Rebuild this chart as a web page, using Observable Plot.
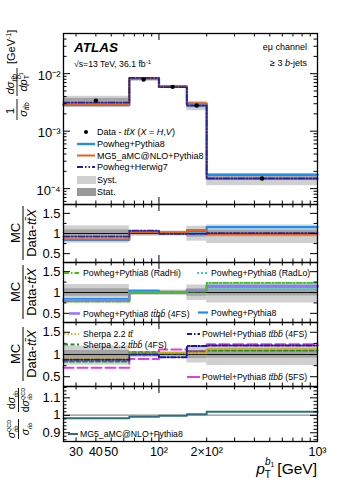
<!DOCTYPE html>
<html><head><meta charset="utf-8">
<script src="https://cdn.jsdelivr.net/npm/d3@7"></script>
<script src="https://cdn.jsdelivr.net/npm/@observablehq/plot@0.6"></script>
<style>
body{margin:0;background:#fff;}
#wrap{position:relative;width:349px;height:483px;overflow:hidden;font-family:"Liberation Sans",Arial,Helvetica,sans-serif;}
#wrap > svg{display:block;}
#ov{position:absolute;left:0;top:0;pointer-events:none;}
</style></head><body><div id="wrap"></div>
<script>
// ---------------- data ----------------
const binEdges = [25, 65, 100, 150, 200, 1000];
const binCenters = [40, 80, 122, 173, 447];
const dataXsec = [3.4e-3, 7.9e-3, 5.9e-3, 2.8e-3, 1.5e-4];
const systUp = [0.19, 0.07, 0.06, 0.18, 0.21];
const systDn = [0.24, 0.07, 0.06, 0.19, 0.25];
const statUnc = [0.09, 0.04, 0.035, 0.09, 0.08];
// MC / (Data - ttX) ratios
const powhegPy8 = [0.84, 1.04, 1.00, 1.05, 1.16];
const mg5Py8 = [0.86, 1.03, 1.03, 1.09, 0.98];
const powhegH7 = [0.92, 1.07, 0.99, 0.99, 1.01];
const radHi = [0.78, 0.99, 1.00, 1.02, 1.23];
const radLo = [0.80, 1.00, 0.99, 1.04, 1.08];
const powhegTtbb4FS = [0.81, 1.00, 0.99, 1.05, 1.14];
const sherpaTt = [0.92, 1.02, 1.04, 1.03, 1.13];
const sherpaTtbb = [0.84, 1.05, 1.02, 1.07, 1.09];
const powhelTtbb4FS = [0.88, 1.00, 0.94, 1.19, 1.20];
const powhelTtbb5FS = [0.70, 0.90, 1.11, 1.08, 1.23];
// sigma^QCD/sigma * dsigma/dsigma^QCD
const qcdRatioMG5 = [0.983, 0.992, 0.998, 1.006, 1.020];
const qcdBand = 0.004;
// ticks
const xTickValues = [30, 40, 50, 100, 200, 1000];
const xTickLabels = ["30", "40", "50", "10²", "2×10²", "10³"];
const xMajor = [100, 1000];
const xMinor = [30, 40, 50, 60, 70, 80, 90, 200, 300, 400, 500, 600, 700, 800, 900];
const yTopTickValues = [1e-2, 1e-3, 1e-4];
const yTopTickLabels = ["10⁻²", "10⁻³", "10⁻⁴"];
const yTopMinor = [6e-5, 7e-5, 8e-5, 9e-5, 2e-4, 3e-4, 4e-4, 5e-4, 6e-4, 7e-4, 8e-4, 9e-4,
                   2e-3, 3e-3, 4e-3, 5e-3, 6e-3, 7e-3, 8e-3, 9e-3, 2e-2, 3e-2, 4e-2];
const yRatioTicks = [0.5, 1, 1.5];
const yRatioTickLabels = ["0.5", "1", "1.5"];
const yRatioMinor = [0.75, 1.25];
const yQcdTicks = [0.9, 1, 1.1];
const yQcdTickLabels = ["0.9", "1", "1.1"];
const yQcdMinor = [0.86, 0.88, 0.92, 0.94, 0.96, 0.98, 1.02, 1.04, 1.06, 1.08, 1.12, 1.14, 1.16];

// ---------------- style ----------------
const FONT = '"Liberation Sans", Arial, Helvetica, sans-serif';
const W = 349, ML = 63, MR = 32, FW = W - ML - MR;
const C = {
  blue: "#1f8ef1", orange: "#e8601c", h7: "#22229a", radHi: "#44bb22", radLo: "#33cccc",
  purple: "#9b77ff", sherpaTt: "#d4aa20", sherpaTtbb: "#2a8a2a", powhel4: "#1a1aa8",
  powhel5: "#e040e0", teal: "#2f6f82", light: "#d0d0d0", dark: "#a3a3a3"
};
const DASH = { h7: "6,2,1.5,2,1.5,2", radHi: "5,2,1.5,2", radLo: "2,2", sherpaTt: "1.5,2",
  sherpaTtbb: "4,2.5", powhel4: "5,2,1.5,2", powhel5: "10,4" };

const bins = binEdges.slice(0, -1).map((lo, i) => ({lo, hi: binEdges[i + 1], i}));
function stepPts(vals) {
  const pts = [];
  vals.forEach((v, i) => { pts.push({x: binEdges[i], y: v}); pts.push({x: binEdges[i + 1], y: v}); });
  return pts;
}
const times = (r) => r.map((v, i) => v * dataXsec[i]);
function histLine(vals, stroke, width, dash) {
  return Plot.line(stepPts(vals), {x: "x", y: "y", stroke, strokeWidth: width, strokeDasharray: dash, curve: "linear"});
}
function ratioBands() {
  return [
    Plot.rect(bins, {x1: "lo", x2: "hi", y1: b => 1 - systDn[b.i], y2: b => 1 + systUp[b.i], fill: C.light}),
    Plot.rect(bins, {x1: "lo", x2: "hi", y1: b => 1 - statUnc[b.i], y2: b => 1 + statUnc[b.i], fill: C.dark}),
    Plot.ruleY([1], {stroke: "#111", strokeWidth: 1.2})
  ];
}

function panel({height, mt = 0, mb = 0, yType = "linear", yDomain, yMajor, yMinor, yTickValues, yTickLabels, bottomAxis = false, marks, yDy = 0}) {
  const fh = height - mt - mb;
  return Plot.plot({
    width: W, height, marginLeft: ML, marginRight: MR, marginTop: mt, marginBottom: mb,
    style: {fontFamily: FONT, fontSize: "13px", background: "white", overflow: "visible", color: "#000"},
    x: {type: "log", domain: [25, 1000], axis: null},
    y: {type: yType, domain: yDomain},
    marks: [
      ...marks,
      Plot.tickX(xMajor, {x: d => d, insetTop: fh - 7, stroke: "#000"}),
      Plot.tickX(xMajor, {x: d => d, insetBottom: fh - 7, stroke: "#000"}),
      Plot.tickX(xMinor, {x: d => d, insetTop: fh - 3.5, stroke: "#000"}),
      Plot.tickX(xMinor, {x: d => d, insetBottom: fh - 3.5, stroke: "#000"}),
      Plot.tickY(yMajor, {y: d => d, insetRight: FW - 7, stroke: "#000"}),
      Plot.tickY(yMajor, {y: d => d, insetLeft: FW - 7, stroke: "#000"}),
      Plot.tickY(yMinor, {y: d => d, insetRight: FW - 3.5, stroke: "#000"}),
      Plot.tickY(yMinor, {y: d => d, insetLeft: FW - 3.5, stroke: "#000"}),
      Plot.frame({stroke: "#000", strokeWidth: 1.3}),
      Plot.axisY(yTickValues, {tickSize: 0, tickPadding: 3, dy: yDy, label: null, fontSize: 13,
        tickFormat: d => yTickLabels[yTickValues.indexOf(d)]}),
      ...(bottomAxis ? [Plot.text(xTickValues, {x: d => d, frameAnchor: "bottom", lineAnchor: "top", dy: 6,
        fontSize: 12.5, textAnchor: "middle", fill: "#000", text: d => xTickLabels[xTickValues.indexOf(d)]})] : [])
    ]
  });
}

const wrap = document.getElementById("wrap");

// Panel 1: normalised cross-section
wrap.appendChild(panel({
  height: 204, mt: 33, yType: "log", yDomain: [5.3e-5, 0.05], yMajor: yTopTickValues, yMinor: yTopMinor,
  yTickValues: yTopTickValues, yTickLabels: yTopTickLabels, yDy: 2,
  marks: [
    Plot.rect(bins, {x1: "lo", x2: "hi", y1: b => dataXsec[b.i] * (1 - systDn[b.i]), y2: b => dataXsec[b.i] * (1 + systUp[b.i]), fill: C.light}),
    Plot.rect(bins, {x1: "lo", x2: "hi", y1: b => dataXsec[b.i] * (1 - statUnc[b.i]), y2: b => dataXsec[b.i] * (1 + statUnc[b.i]), fill: C.dark}),
    histLine(times(powhegPy8), C.blue, 2.4),
    histLine(times(mg5Py8), C.orange, 2),
    histLine(times(powhegH7), C.h7, 1.8, DASH.h7),
    Plot.dot(binCenters.map((x, i) => ({x, y: dataXsec[i]})), {x: "x", y: "y", r: 2.2, fill: "#000"})
  ]
}));

// Panel 2
wrap.appendChild(panel({
  height: 58, yDomain: [0.28, 1.72], yMajor: yRatioTicks, yMinor: yRatioMinor,
  yTickValues: yRatioTicks, yTickLabels: yRatioTickLabels,
  marks: [
    ...ratioBands(),
    histLine(powhegPy8, C.blue, 2.2),
    histLine(mg5Py8, C.orange, 2),
    histLine(powhegH7, C.h7, 1.8, DASH.h7)
  ]
}));

// Panel 3
wrap.appendChild(panel({
  height: 60, yDomain: [0.28, 1.72], yMajor: yRatioTicks, yMinor: yRatioMinor,
  yTickValues: yRatioTicks, yTickLabels: yRatioTickLabels,
  marks: [
    ...ratioBands(),
    histLine(radLo, C.radLo, 1.8, DASH.radLo),
    histLine(powhegPy8, C.blue, 2.2),
    histLine(powhegTtbb4FS, C.purple, 2.6),
    histLine(radHi, C.radHi, 1.8, DASH.radHi)
  ]
}));

// Panel 4
wrap.appendChild(panel({
  height: 64, yDomain: [0.28, 1.72], yMajor: yRatioTicks, yMinor: yRatioMinor,
  yTickValues: yRatioTicks, yTickLabels: yRatioTickLabels,
  marks: [
    ...ratioBands(),
    histLine(powhelTtbb5FS, C.powhel5, 2, DASH.powhel5),
    histLine(sherpaTtbb, C.sherpaTtbb, 2, DASH.sherpaTtbb),
    histLine(sherpaTt, C.sherpaTt, 2, DASH.sherpaTt),
    histLine(powhelTtbb4FS, C.powhel4, 2, DASH.powhel4)
  ]
}));

// Panel 5
wrap.appendChild(panel({
  height: 97, mb: 42, yDomain: [0.85, 1.165], yMajor: yQcdTicks, yMinor: yQcdMinor,
  yTickValues: yQcdTicks, yTickLabels: yQcdTickLabels, bottomAxis: true,
  marks: [
    Plot.rect([0], {x1: () => binEdges[0], x2: () => binEdges[binEdges.length - 1], y1: () => 1 - qcdBand, y2: () => 1 + qcdBand, fill: "#cfcfcf"}),
    Plot.ruleY([1], {stroke: "#9a9a9a", strokeWidth: 1}),
    histLine(qcdRatioMG5, C.teal, 2)
  ]
}));

// ---------------- overlay: texts, legends, axis titles ----------------
const tt = '<tspan font-style="italic">t</tspan><tspan font-style="italic">t&#772;</tspan>';
const bb = '<tspan font-style="italic">b</tspan><tspan font-style="italic">b&#772;</tspan>';
function sw(x1, x2, y, color, width, dash) {
  return `<line x1="${x1}" x2="${x2}" y1="${y}" y2="${y}" stroke="${color}" stroke-width="${width}" ${dash ? `stroke-dasharray="${dash}"` : ""}/>`;
}
function lt(x, y, html, size = 8.7, anchor = "start") {
  return `<text x="${x}" y="${y}" font-size="${size}" text-anchor="${anchor}">${html}</text>`;
}

let ov = "";
// ATLAS labels
ov += `<text x="74" y="52" font-size="13.5" font-weight="bold" font-style="italic">ATLAS</text>`;
ov += lt(74, 67, `√s=13 TeV, 36.1 fb<tspan font-size="6" dy="-3.5">-1</tspan>`, 8.7);
ov += lt(307, 50, `eμ channel`, 9, "end");
ov += lt(307, 66, `≥ 3 <tspan font-style="italic">b</tspan>-jets`, 9, "end");
// top legend
ov += `<circle cx="86" cy="132" r="2" fill="#000"/>`;
ov += lt(97, 135, `Data - ${tt}<tspan font-style="italic">X</tspan> (<tspan font-style="italic">X</tspan> = <tspan font-style="italic">H</tspan>,<tspan font-style="italic">V</tspan>)`, 9);
ov += sw(77, 95, 144, C.blue, 2.4) + lt(97, 147, "Powheg+Pythia8", 9);
ov += sw(77, 95, 155.5, C.orange, 2) + lt(97, 158.5, "MG5_aMC@NLO+Pythia8", 9);
ov += sw(77, 95, 167, C.h7, 1.8, DASH.h7) + lt(97, 170, "Powheg+Herwig7", 9);
ov += `<rect x="77" y="176" width="19" height="8" fill="${C.light}"/>` + lt(97, 183, "Syst.", 9);
ov += `<rect x="77" y="188" width="19" height="8" fill="#999"/>` + lt(97, 195, "Stat.", 9);
// panel 3 legend
ov += sw(64, 79, 273, C.radHi, 1.8, DASH.radHi) + lt(83, 276, "Powheg+Pythia8 (RadHi)");
ov += sw(197, 209, 273, C.radLo, 1.8, DASH.radLo) + lt(211, 276, "Powheg+Pythia8 (RadLo)");
ov += sw(69, 80, 313.5, C.purple, 2.6) + lt(83, 316.5, `Powheg+Pythia8 ${tt}${bb} (4FS)`);
ov += sw(198, 208, 312.5, C.blue, 2.2) + lt(211, 315.5, "Powheg+Pythia8");
// panel 4 legend
ov += sw(64, 79, 334, C.sherpaTt, 2, DASH.sherpaTt) + lt(83, 337, `Sherpa 2.2 ${tt}`);
ov += sw(64, 79, 344.5, C.sherpaTtbb, 2, DASH.sherpaTtbb) + lt(83, 347.5, `Sherpa 2.2 ${tt}${bb} (4FS)`);
ov += sw(187, 200, 334, C.powhel4, 2, DASH.powhel4) + lt(202, 337, `PowHel+Pythia8 ${tt}${bb} (4FS)`);
ov += sw(187, 200, 377, C.powhel5, 2) + lt(202, 380, `PowHel+Pythia8 ${tt}${bb} (5FS)`);
// panel 5 legend
ov += sw(68, 78, 434, C.teal, 2) + lt(80, 437, "MG5_aMC@NLO+Pythia8");

// y title, top panel
const sig = (s) => `<tspan font-style="italic">σ</tspan><tspan font-size="7" dy="2.8">${s}</tspan><tspan dy="-2.8"></tspan>`;
const ttbSub = `<tspan font-style="italic">tt&#772;b</tspan>`;
ov += `<g transform="translate(17,121) rotate(-90)" font-size="11">
  <text x="10" y="-3" text-anchor="middle">1</text>
  <line x1="1" x2="22" y1="0" y2="0" stroke="#000" stroke-width="0.9"/>
  <text x="11.5" y="9.5" text-anchor="middle">${sig(ttbSub)}</text>
  <text x="37" y="-3" text-anchor="middle"><tspan font-style="italic">d</tspan>${sig(ttbSub)}</text>
  <line x1="25" x2="53" y1="0" y2="0" stroke="#000" stroke-width="0.9"/>
  <text x="39" y="9.5" text-anchor="middle"><tspan font-style="italic">dp</tspan><tspan font-size="7" dy="2.8">T</tspan><tspan font-size="7" dy="-8" dx="-4" font-style="italic">b</tspan><tspan font-size="5" dy="1.5">1</tspan></text>
  <text x="57" y="-2">[GeV<tspan font-size="7" dy="-4">-1</tspan><tspan dy="4">]</tspan></text>
</g>`;
// ratio y titles
[233, 292, 354].forEach(cy => {
  ov += `<g transform="translate(23,${cy}) rotate(-90)" font-size="13">
    <text x="0" y="-3" text-anchor="middle">MC</text>
    <line x1="-27" x2="27" y1="0" y2="0" stroke="#000" stroke-width="1"/>
    <text x="0" y="13" text-anchor="middle">Data-${tt}<tspan font-style="italic">X</tspan></text>
  </g>`;
});
// panel 5 y title
const sigQ = `<tspan font-style="italic">σ</tspan><tspan font-size="5.5" dy="-4">QCD</tspan><tspan font-size="5.5" dx="-12" dy="7" font-style="italic">tt&#772;b</tspan>`;
const sigS = `<tspan font-style="italic">σ</tspan><tspan font-size="5.5" dy="3" font-style="italic">tt&#772;b</tspan>`;
ov += `<g transform="translate(18.5,414) rotate(-90)" font-size="10.5">
  <text x="-15" y="-3.5" text-anchor="middle">${sigQ}</text>
  <line x1="-25" x2="-5" y1="0" y2="0" stroke="#000" stroke-width="0.9"/>
  <text x="-15" y="10.5" text-anchor="middle">${sigS}</text>
  <text x="14" y="-3.5" text-anchor="middle">d${sigS}</text>
  <line x1="2" x2="26" y1="0" y2="0" stroke="#000" stroke-width="0.9"/>
  <text x="14" y="10.5" text-anchor="middle">d${sigQ}</text>
</g>`;
// x title
ov += `<text x="317" y="474" text-anchor="end" font-size="15.5"><tspan font-style="italic">p</tspan><tspan font-size="10" dy="4">T</tspan><tspan font-size="10" dx="-6" dy="-13" font-style="italic">b</tspan><tspan font-size="7" dy="2">1</tspan><tspan dy="7" dx="3">[GeV]</tspan></text>`;

const ovSvg = `<svg id="ov" width="349" height="483" viewBox="0 0 349 483" xmlns="http://www.w3.org/2000/svg" font-family='${FONT}' fill="#000">${ov}</svg>`;
wrap.insertAdjacentHTML("beforeend", ovSvg);
</script>
</body></html>
